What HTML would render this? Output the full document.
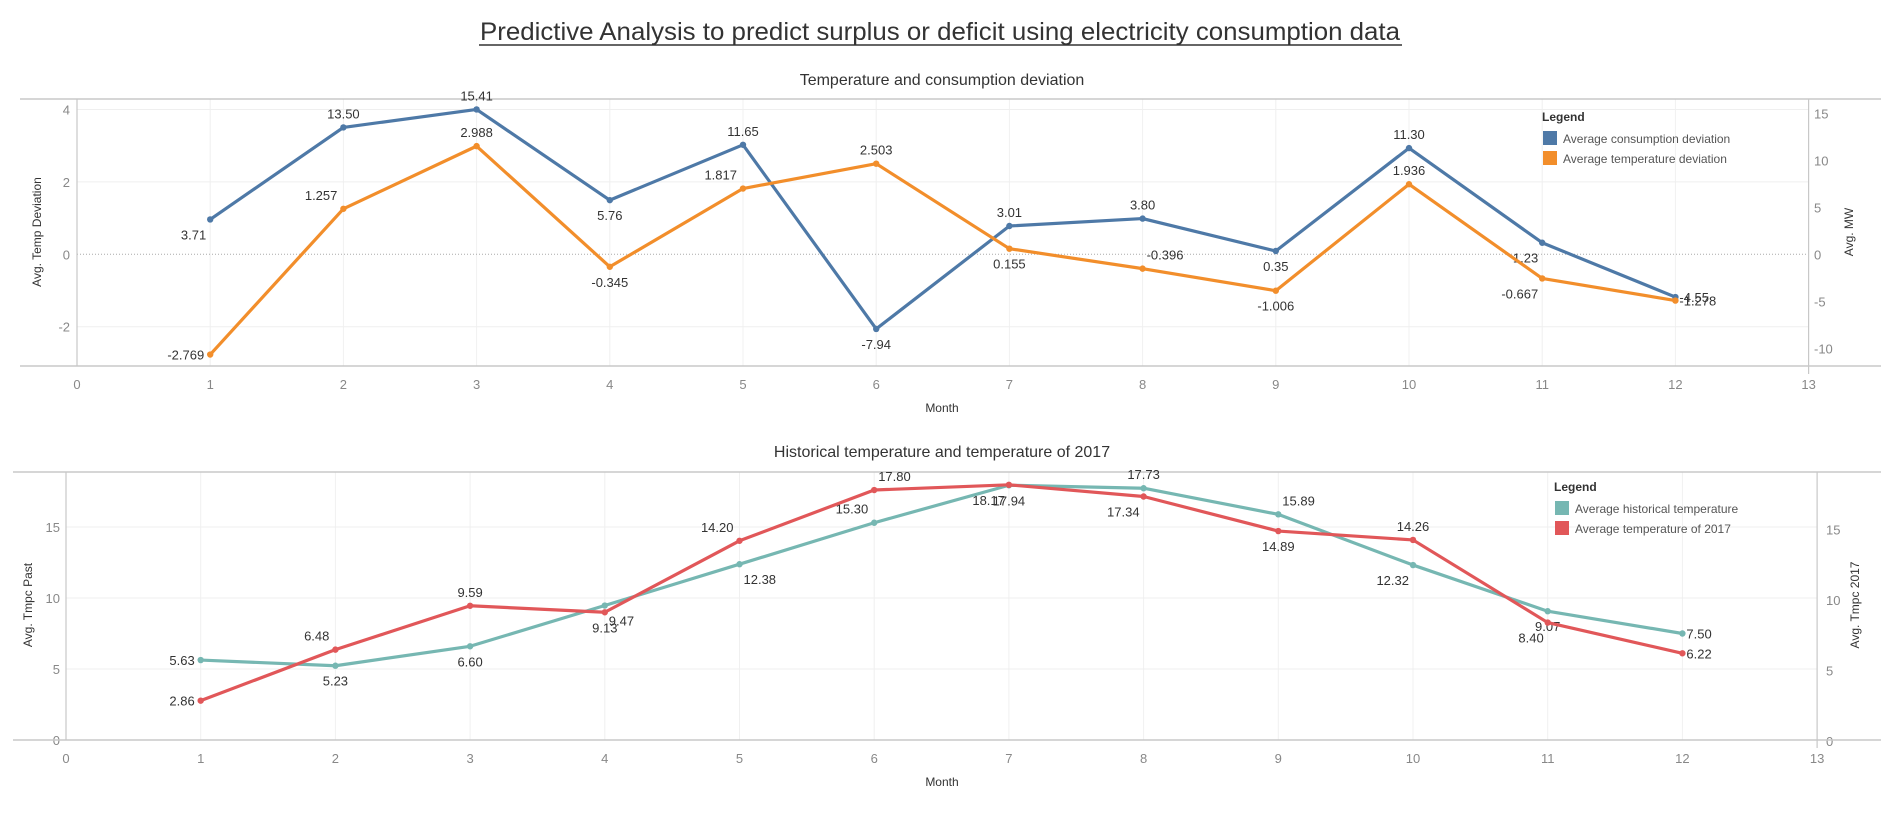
<!DOCTYPE html>
<html><head><meta charset="utf-8"><style>
html,body{margin:0;padding:0;background:#fff;}
svg{display:block;font-family:"Liberation Sans Narrow","Liberation Sans",sans-serif;}
</style></head><body>
<svg id="s" width="1881" height="818" viewBox="0 0 1881 818" xmlns="http://www.w3.org/2000/svg">
<text x="940" y="40" text-anchor="middle" font-size="25" fill="#333" textLength="920" lengthAdjust="spacingAndGlyphs">Predictive Analysis to predict surplus or deficit using electricity consumption data</text>
<line x1="479" y1="45" x2="1402" y2="45" stroke="#333" stroke-width="1.5"/>
</svg>
<script>
const months=[1,2,3,4,5,6,7,8,9,10,11,12];
const xTicks=[0,1,2,3,4,5,6,7,8,9,10,11,12,13];
const consDev=[3.71,13.50,15.41,5.76,11.65,-7.94,3.01,3.80,0.35,11.30,1.23,-4.55];
const consLabels=["3.71","13.50","15.41","5.76","11.65","-7.94","3.01","3.80","0.35","11.30","1.23","-4.55"];
const tempDev=[-2.769,1.257,2.988,-0.345,1.817,2.503,0.155,-0.396,-1.006,1.936,-0.667,-1.278];
const tempLabels=["-2.769","1.257","2.988","-0.345","1.817","2.503","0.155","-0.396","-1.006","1.936","-0.667","-1.278"];
const consPos=["bl","a","a","b","a","b","a","a","b","a","bl","r"];
const tempPos=["l","al","a","b","al","a","b","ar","b","a","bl","r"];
const leftTicks1=[-2,0,2,4];
const rightTicks1=[-10,-5,0,5,10,15];
const histT=[5.63,5.23,6.60,9.47,12.38,15.30,17.94,17.73,15.89,12.32,9.07,7.50];
const histLabels=["5.63","5.23","6.60","9.47","12.38","15.30","17.94","17.73","15.89","12.32","9.07","7.50"];
const t2017=[2.86,6.48,9.59,9.13,14.20,17.80,18.17,17.34,14.89,14.26,8.40,6.22];
const t2017Labels=["2.86","6.48","9.59","9.13","14.20","17.80","18.17","17.34","14.89","14.26","8.40","6.22"];
const histPos=["l","b","b","br","br","al","b","a","ar","bl","b","r"];
const redPos=["l","al","a","b","al","ar","bl","bl","b","a","bl","r"];
const ticks2=[0,5,10,15];

const NS="http://www.w3.org/2000/svg";
const svg=document.getElementById('s');
function el(tag,attrs,parent){const e=document.createElementNS(NS,tag);for(const k in attrs)e.setAttribute(k,attrs[k]);(parent||svg).appendChild(e);return e;}
function txt(x,y,s,size,fill,anchor,parent){const t=el('text',{x:x,y:y,'font-size':size,fill:fill,'text-anchor':anchor||'middle'},parent);t.textContent=s;return t;}

function chart(cfg){
  const g=el('g',{});
  
  
  const X=m=>cfg.x0+m*cfg.dx;
  const YL=v=>cfg.yl0-v*cfg.ylu;
  const YR=v=>cfg.yr0-v*cfg.yru;
  // title
  const tt=txt(cfg.titleX,cfg.titleY,cfg.title,16,'#333','middle',g);
  
  
  // gridlines vertical
  xTicks.forEach(m=>{
    if(m>0&&m<13){const l=el('line',{x1:X(m),x2:X(m),y1:cfg.top,y2:cfg.bot,stroke:'#f0f0f0'},g);
    }
    const t=txt(X(m),cfg.xLabY,String(m),13,'#888','middle',g);
    
  });
  cfg.leftTicks.forEach(v=>{
    if(v!==0||!cfg.zeroDotted){const l=el('line',{x1:cfg.x0,x2:X(13),y1:YL(v),y2:YL(v),stroke:'#efefef'},g);
    }
    const t=txt(cfg.leftLabX,YL(v)+5,String(v),13,'#888','end',g);
    
  });
  cfg.rightTicks.forEach(v=>{
    const t=txt(cfg.rightLabX,YR(v)+5,String(v),13,'#888','start',g);
    
  });
  if(cfg.zeroDotted){const z=el('line',{x1:cfg.x0,x2:X(13),y1:YL(0),y2:YL(0),stroke:'#aaa','stroke-dasharray':'1,2'},g);
    }
  // frame
  [cfg.top,cfg.bot].forEach(y=>{const l=el('line',{x1:cfg.frameX,x2:1881,y1:y,y2:y,stroke:'#c8c8c8','stroke-width':1.5},g);
    });
  [cfg.x0,X(13)].forEach(x=>{const l=el('line',{x1:x,x2:x,y1:cfg.top,y2:cfg.bot+(x===cfg.x0?0:8),stroke:'#c8c8c8','stroke-width':1.2},g);
    });
  // axis titles
  const xt=txt(cfg.monthX,cfg.monthY,'Month',12,'#333','middle',g);
  
  const lt=txt(0,0,cfg.leftTitle,12,'#333','middle',g);
  lt.setAttribute('transform',`translate(${cfg.leftTitleX},${cfg.titleCY}) rotate(-90)`);
  lt.setAttribute('font-family','"Liberation Sans",sans-serif');
  
  const rt=txt(0,0,cfg.rightTitle,12,'#333','middle',g);
  rt.setAttribute('transform',`translate(${cfg.rightTitleX},${cfg.titleCY}) rotate(-90)`);
  rt.setAttribute('font-family','"Liberation Sans",sans-serif');
  
  // series
  cfg.series.forEach(s=>{
    const Y=s.axis==='L'?YL:YR;
    const pts=months.map((m,i)=>X(m)+','+Y(s.vals[i])).join(' ');
    const pl=el('polyline',{points:pts,fill:'none',stroke:s.color,'stroke-width':3.2,'stroke-linejoin':'round'},g);
    
    months.forEach((m,i)=>{
      const c=el('circle',{cx:X(m),cy:Y(s.vals[i]),r:3.2,fill:s.color},g);
      
      const p=s.pos[i];let lx=X(m),ly=Y(s.vals[i]),an='middle';
      if(p==='a'){ly-=9;}else if(p==='b'){ly+=20;}
      else if(p==='al'){ly-=9;lx-=6;an='end';}else if(p==='ar'){ly-=9;lx+=4;an='start';}
      else if(p==='bl'){ly+=20;lx-=4;an='end';}else if(p==='br'){ly+=20;lx+=4;an='start';}
      else if(p==='l'){ly+=5;lx-=6;an='end';}else if(p==='r'){ly+=5;lx+=4;an='start';}
      const t=txt(lx,ly,s.labels[i],13,'#333',an,g);
      
    });
  });
  // legend
  const lg=el('g',{},g);
  
  const lh=txt(cfg.legX,cfg.legY,'Legend',12,'#333','start',lg);
  lh.setAttribute('font-weight','bold');
  
  cfg.series.forEach((s,i)=>{
    const r=el('rect',{x:cfg.legX+1,y:cfg.legY+10+i*20,width:14,height:14,fill:s.color},lg);
    
    const t=txt(cfg.legX+21,cfg.legY+22+i*20,s.legend,12,'#555','start',lg);
    
  });
}

chart({name:'consumption-deviation-chart',title:'Temperature and consumption deviation',titleX:942,titleY:85,
  x0:77,dx:133.2,top:99,bot:366,frameX:20,yl0:254.3,ylu:36.2,yr0:254.3,yru:9.4,
  leftTicks:leftTicks1,rightTicks:rightTicks1,leftLabX:70,rightLabX:1814,zeroDotted:true,
  xLabY:389,monthX:942,monthY:412,leftTitle:'Avg. Temp Deviation',rightTitle:'Avg. MW',
  leftTitleX:41,rightTitleX:1853,titleCY:232,legX:1542,legY:121,
  series:[{name:'consumption-deviation',axis:'R',vals:consDev,labels:consLabels,pos:consPos,color:'#4e79a7',legend:'Average consumption deviation'},
          {name:'temperature-deviation',axis:'L',vals:tempDev,labels:tempLabels,pos:tempPos,color:'#f28e2b',legend:'Average temperature deviation'}]});

chart({name:'historical-temperature-chart',title:'Historical temperature and temperature of 2017',titleX:942,titleY:457,
  x0:66,dx:134.7,top:472,bot:740,frameX:13,yl0:740,ylu:14.2,yr0:741,yru:14.1,
  leftTicks:ticks2,rightTicks:ticks2,leftLabX:60,rightLabX:1826,zeroDotted:false,
  xLabY:763,monthX:942,monthY:786,leftTitle:'Avg. Tmpc Past',rightTitle:'Avg. Tmpc 2017',
  leftTitleX:32,rightTitleX:1859,titleCY:605,legX:1554,legY:491,
  series:[{name:'historical-temperature',axis:'L',vals:histT,labels:histLabels,pos:histPos,color:'#76b7b2',legend:'Average historical temperature'},
          {name:'temperature-2017',axis:'R',vals:t2017,labels:t2017Labels,pos:redPos,color:'#e15759',legend:'Average temperature of 2017'}]});
</script>
</body></html>
